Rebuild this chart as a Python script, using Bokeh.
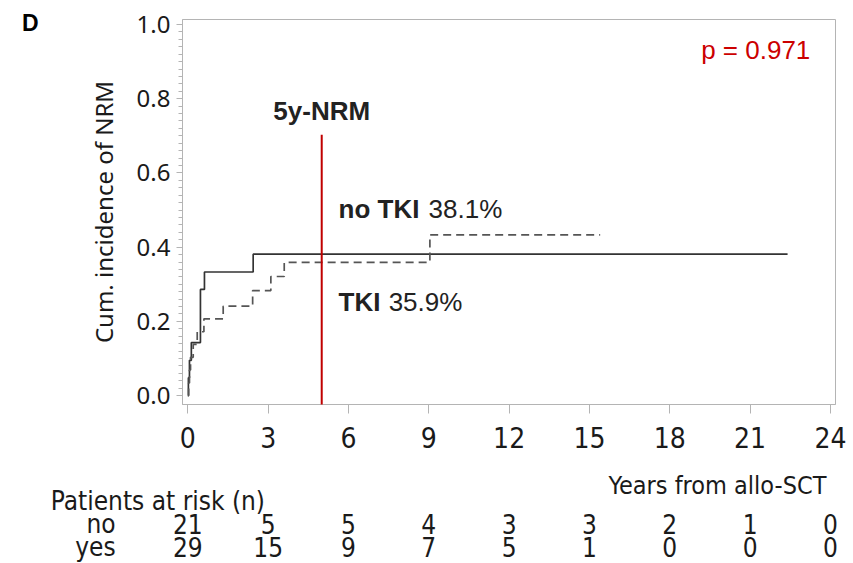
from bokeh.plotting import figure
from bokeh.layouts import column, row
from bokeh.models import Range1d, FixedTicker, PrintfTickFormatter, Label, ColumnDataSource, Arrow
from bokeh.core.properties import value
from bokeh.embed import file_html
from bokeh.resources import INLINE

# ---- data ----
time_no = [0, 0.02, 0.06, 0.13, 0.47, 0.62, 2.44, 22.4]
cif_no = [0, 0.048, 0.095, 0.143, 0.286, 0.333, 0.381, 0.381]
time_yes = [0, 0.03, 0.06, 0.1, 0.2, 0.35, 0.6, 1.32, 2.42, 3.1, 3.6, 9.04, 15.4]
cif_yes = [0, 0.034, 0.069, 0.103, 0.138, 0.172, 0.207, 0.241, 0.283, 0.321, 0.359, 0.433, 0.433]
x_ticks = [0, 3, 6, 9, 12, 15, 18, 21, 24]
y_ticks = [0.0, 0.2, 0.4, 0.6, 0.8, 1.0]
risk_times = [0, 3, 6, 9, 12, 15, 18, 21, 24]
risk_no = [21, 5, 5, 4, 3, 3, 2, 1, 0]
risk_yes = [29, 15, 9, 7, 5, 1, 0, 0, 0]
risk_groups = ["no", "yes"]
nrm_year = 5
label_no = "no TKI"
pct_no = "38.1%"
label_yes = "TKI"
pct_yes = "35.9%"
p_text = "p = 0.971"
x_title = "Years from allo-SCT"
risk_title = "Patients at risk (n)"
y_title = "Cum. incidence of NRM"
panel = "D"

COND = "DejaVu Sans Condensed, DejaVu Sans"
SANS = "Liberation Sans"
TXT = "#1a1a1a"

# ---- geometry ----
W, H = 853, 563
D_W = 60
MAIN_H = 460
B_L, B_R, B_T, B_B = 182, 18, 19, 404   # frame edges in page pixels
X0, X1 = -0.2, 24.19
Y0, Y1 = -0.024, 1.0135
px_per_x = (W - B_R - B_L) / (X1 - X0)
px_per_y = (B_B - B_T) / (Y1 - Y0)

# ---- main plot ----
p = figure(width=W - D_W, height=MAIN_H, x_range=Range1d(X0, X1), y_range=Range1d(Y0, Y1),
           output_backend="svg", toolbar_location=None,
           min_border_left=B_L - D_W, min_border_right=B_R, min_border_top=B_T,
           min_border_bottom=MAIN_H - B_B)
p.xgrid.visible = False
p.ygrid.visible = False
p.outline_line_color = "#b4b4b4"

xa = p.xaxis[0]
xa.ticker = FixedTicker(ticks=x_ticks)
xa.axis_line_color = "#b4b4b4"
xa.major_tick_line_color = "#b4b4b4"
xa.major_tick_out = 9
xa.major_tick_in = 0
xa.minor_tick_line_color = None
xa.major_label_text_font = COND
xa.major_label_text_font_size = "28px"
xa.major_label_text_color = TXT
xa.major_label_standoff = 13

ya = p.yaxis[0]
minor = [round(i * 0.02, 2) for i in range(51)]
ya.ticker = FixedTicker(ticks=y_ticks, minor_ticks=minor)
ya.formatter = PrintfTickFormatter(format="%.1f")
ya.axis_line_color = "#b4b4b4"
ya.major_tick_line_color = "#b4b4b4"
ya.minor_tick_line_color = "#b4b4b4"
ya.major_tick_out = 6
ya.major_tick_in = 0
ya.minor_tick_out = 4
ya.minor_tick_in = 0
ya.major_label_text_font = "Noto Sans"
ya.major_label_text_font_size = "24px"
ya.major_label_text_color = TXT
ya.major_label_standoff = 6
ya.axis_label = y_title
ya.axis_label_text_font = "Noto Sans"
ya.axis_label_text_font_style = "normal"
ya.axis_label_text_font_size = "24px"
ya.axis_label_text_color = TXT
ya.axis_label_standoff = 14

p.step(time_no, cif_no, mode="after", line_color="#333333", line_width=1.7)
p.step(time_yes, cif_yes, mode="after", line_color="#555555", line_width=1.7, line_dash="8 5")

p.add_layout(Arrow(end=None, x_start=nrm_year, y_start=-0.0485, x_end=nrm_year, y_end=0.703,
                   line_color="#c00000", line_width=2))


def lab(fig, x, y, text, font=SANS, size="26px", style="normal", color="#222222", align="left"):
    fig.add_layout(Label(x=x, y=y, text=text, text_font=font, text_font_size=size,
                         text_font_style=style, text_color=color, text_align=align,
                         text_baseline="middle"))


lab(p, nrm_year, 0.768, "5y-NRM", style="bold", align="center")
lab(p, 5.63, 0.504, label_no, style="bold")
lab(p, 8.99, 0.504, pct_no)
lab(p, 5.63, 0.253, label_yes, style="bold")
lab(p, 7.5, 0.253, pct_yes)
lab(p, 23.25, 0.93, p_text, color="#cc0000", align="right")

# ---- panel letter strip: the letter is the single tick label of a left axis ----
d = figure(width=D_W, height=MAIN_H, x_range=Range1d(0, 1), y_range=Range1d(Y0, Y1),
           output_backend="svg", toolbar_location=None, x_axis_location=None, y_axis_location="left",
           min_border_left=38, min_border_right=0, min_border_top=B_T, min_border_bottom=MAIN_H - B_B)
d.xgrid.visible = False
d.ygrid.visible = False
d.outline_line_color = None
da = d.yaxis[0]
da.ticker = FixedTicker(ticks=[Y1 - 3 / px_per_y], minor_ticks=[])
da.formatter = PrintfTickFormatter(format=panel)
da.axis_line_color = None
da.major_tick_line_color = None
da.minor_tick_line_color = None
da.major_tick_out = 0
da.major_tick_in = 0
da.major_label_standoff = 0
da.major_label_text_font = SANS
da.major_label_text_font_style = "bold"
da.major_label_text_font_size = "23px"
da.major_label_text_color = "#000000"

# ---- risk table (same x scale as main plot) ----
tx0 = X0 - B_L / px_per_x
tx1 = X1 + B_R / px_per_x
ty1 = Y0 - (MAIN_H - B_B) / px_per_y
ty0 = Y0 - (H - B_B) / px_per_y
t = figure(width=W, height=H - MAIN_H, x_range=Range1d(tx0, tx1), y_range=Range1d(ty0, ty1),
           output_backend="svg", toolbar_location=None, x_axis_location=None, y_axis_location=None,
           min_border=0)
t.xgrid.visible = False
t.ygrid.visible = False
t.outline_line_color = None

row_y = [-0.345, -0.407]
src = ColumnDataSource(dict(x=risk_times, no=[str(v) for v in risk_no], yes=[str(v) for v in risk_yes]))
for col, yv in zip(risk_groups, row_y):
    t.text(x="x", y=yv, text=col, source=src, text_font=value(COND), text_font_size="26px",
           text_color=TXT, text_align="center", text_baseline="middle")
t.text(x=[-2.7, -2.7], y=row_y, text=risk_groups, text_font=value(COND), text_font_size="26px",
       text_color=TXT, text_align="right", text_baseline="middle")
t.text(x=[-5.12], y=[-0.283], text=[risk_title], text_font=value(COND), text_font_size="26px",
       text_color=TXT, text_align="left", text_baseline="middle")
t.text(x=[23.85], y=[-0.243], text=[x_title], text_font=value(COND), text_font_size="25px",
       text_color=TXT, text_align="right", text_baseline="middle")

layout = column(row(d, p, spacing=0), t, spacing=0)
open("out.html", "w").write(file_html(layout, INLINE))
